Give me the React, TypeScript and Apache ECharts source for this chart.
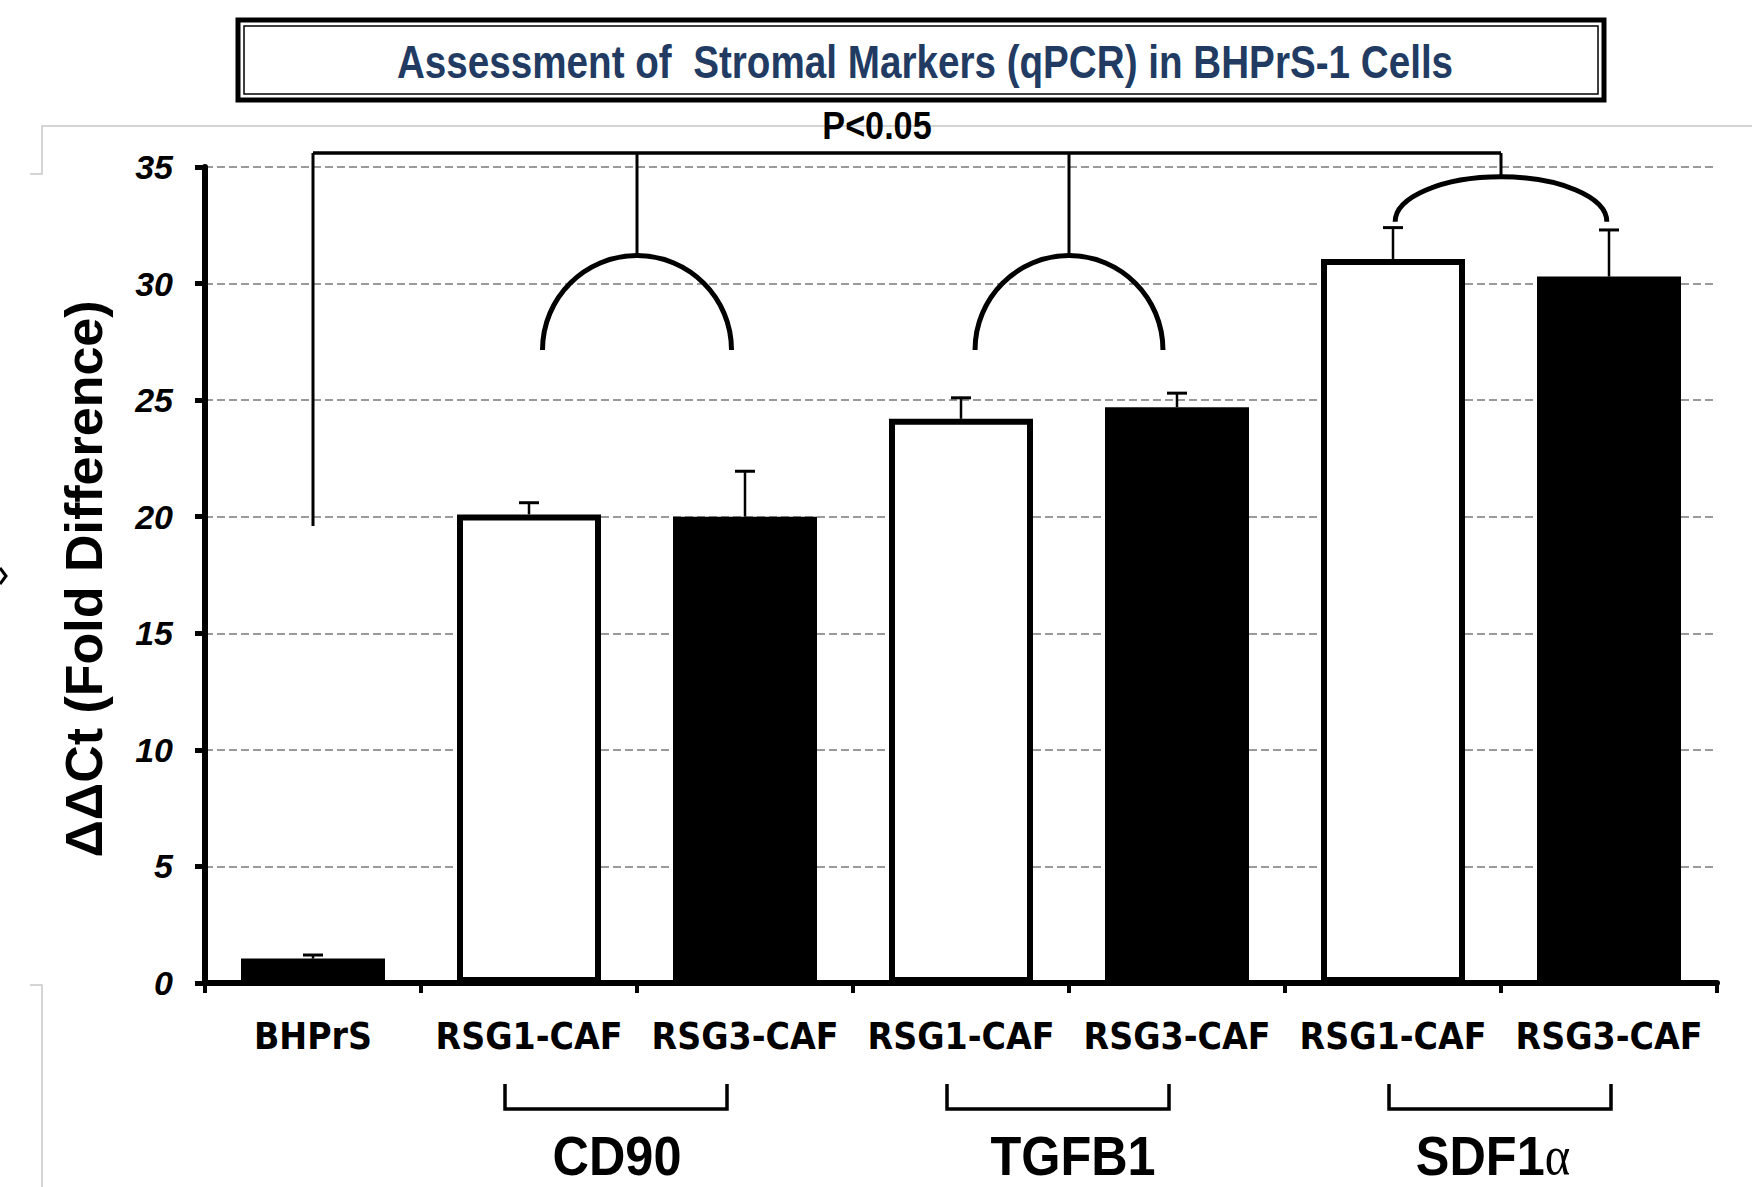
import React, { useEffect, useRef } from "react";
import * as echarts from "echarts";

// ---- data ----
const categories = ["BHPrS", "RSG1-CAF", "RSG3-CAF", "RSG1-CAF", "RSG3-CAF", "RSG1-CAF", "RSG3-CAF"];
const means = [1.05, 20.1, 20.0, 24.2, 24.7, 31.05, 30.3];
const errors = [0.15, 0.5, 1.95, 0.9, 0.6, 1.35, 2.0];
const markerNames = ["CD90", "TGFB1", "SDF1"];
const markerPairs = [[1, 2], [3, 4], [5, 6]];
const yMin = 0;
const yMax = 35;
const yStep = 5;
const titleText = "Assessment of  Stromal Markers (qPCR) in BHPrS-1 Cells";
const pText = "P<0.05";
const yName = "ΔΔCt (Fold Difference)";

// layout tweaks (pixels)
const bracketShift = [-10, 0, 10];
const labelShift = [-20, 4, -8];

const CONDENSED = "'DejaVu Sans Condensed', 'Liberation Sans Narrow', sans-serif";
const SANS = "'Liberation Sans', Arial, sans-serif";

export default function App() {
  const ref = useRef<HTMLDivElement>(null);
  useEffect(() => {
    if (!ref.current) return;
    const chart = echarts.init(ref.current, undefined, { renderer: "svg" });
    const barData = means.map((v, i) => {
      const open = categories[i].startsWith("RSG1");
      return {
        value: v,
        itemStyle: open
          ? { color: "#ffffff", borderColor: "#000000", borderWidth: 6 }
          : { color: "#000000", borderWidth: 0 },
      };
    });
    const errData = means.map((v, i) => [i, v, v + errors[i]]);
    const option: any = {
      animation: false,
      backgroundColor: "#ffffff",
      grid: { left: 205, right: 35, top: 167, bottom: 204, containLabel: false },
      xAxis: {
        type: "category",
        data: categories,
        axisLine: { show: true, lineStyle: { color: "#000", width: 6 } },
        axisTick: { show: true, length: 10, interval: 0, lineStyle: { color: "#000", width: 4 } },
        axisLabel: {
          interval: 0,
          margin: 35,
          color: "#000",
          fontFamily: CONDENSED,
          fontWeight: "bold",
          fontSize: 37,
        },
        splitLine: { show: false },
      },
      yAxis: {
        type: "value",
        min: yMin,
        max: yMax,
        interval: yStep,
        axisLine: { show: true, lineStyle: { color: "#000", width: 6 } },
        axisTick: { show: true, length: 10, lineStyle: { color: "#000", width: 5 } },
        axisLabel: {
          margin: 32,
          color: "#000",
          fontFamily: SANS,
          fontWeight: "bold",
          fontStyle: "italic",
          fontSize: 34,
        },
        splitLine: { show: true, lineStyle: { color: "#9a9a9a", width: 2, type: [8, 4] } },
      },
      series: [
        {
          type: "bar",
          data: barData,
          barWidth: 144,
          z: 2,
        },
        {
          type: "custom",
          data: errData,
          encode: { x: 0, y: [1, 2] },
          z: 3,
          renderItem: (params: any, api: any) => {
            const i = api.value(0);
            const lo = api.coord([i, api.value(1)]);
            const hi = api.coord([i, api.value(2)]);
            return {
              type: "group",
              children: [
                { type: "line", shape: { x1: lo[0], y1: lo[1], x2: hi[0], y2: hi[1] }, style: { stroke: "#000", lineWidth: 2.5 } },
                { type: "line", shape: { x1: hi[0] - 10, y1: hi[1], x2: hi[0] + 10, y2: hi[1] }, style: { stroke: "#000", lineWidth: 3 } },
              ],
            };
          },
        },
      ],
    };
    chart.setOption(option);

    const px = (c: number, v: number) => chart.convertToPixel({ xAxisIndex: 0, yAxisIndex: 0 }, [c, v]) as number[];
    const cx = (c: number) => px(c, 0)[0];
    const cy = (v: number) => px(0, v)[1];
    const catW = cx(1) - cx(0);
    const mid = (a: number, b: number) => (cx(a) + cx(b)) / 2;
    const axisY = cy(0);

    const g: any[] = [];
    const blk = (w: number) => ({ stroke: "#000", lineWidth: w, fill: "none" });

    // frame artifacts
    g.push({ type: "polyline", shape: { points: [[30, 174], [42, 174], [42, 126], [1752, 126]] }, style: { stroke: "#c8c8c8", lineWidth: 1.5, fill: "none" } });
    g.push({ type: "polyline", shape: { points: [[30, 985], [42, 985], [42, 1187]] }, style: { stroke: "#c8c8c8", lineWidth: 1.5, fill: "none" } });
    g.push({ type: "polyline", shape: { points: [[0, 568], [6, 576], [0, 584]] }, style: { stroke: "#000", lineWidth: 3, fill: "none" } });

    // title box
    g.push({ type: "rect", shape: { x: 238, y: 20, width: 1366, height: 80 }, style: { stroke: "#000", lineWidth: 5, fill: "#fff" } });
    g.push({ type: "rect", shape: { x: 244, y: 26, width: 1354, height: 68 }, style: { stroke: "#000", lineWidth: 1.5, fill: "none" } });
    g.push({
      type: "text", x: 925, y: 62, scaleX: 0.84,
      style: { text: titleText, fill: "#213b63", fontFamily: SANS, fontWeight: "bold", fontSize: 46, align: "center", verticalAlign: "middle" },
    });
    g.push({
      type: "text", x: 877, y: 126, scaleX: 0.9,
      style: { text: pText, fill: "#000", fontFamily: SANS, fontWeight: "bold", fontSize: 38, align: "center", verticalAlign: "middle" },
    });
    // y axis name
    g.push({
      type: "text", x: 84, y: 579, rotation: Math.PI / 2,
      style: { text: yName, fill: "#000", fontFamily: SANS, fontWeight: "bold", fontSize: 52, align: "center", verticalAlign: "middle" },
    });

    // significance bracket
    const yT = cy(35.6);
    const rightX = mid(5, 6);
    g.push({ type: "line", shape: { x1: cx(0), y1: yT, x2: rightX, y2: yT }, style: blk(3.5) });
    g.push({ type: "line", shape: { x1: cx(0), y1: yT, x2: cx(0), y2: cy(19.6) }, style: blk(3) });

    const arcs = [
      { pair: [1, 2], top: 31.2, end: 27.15, half: 0.4375 },
      { pair: [3, 4], top: 31.2, end: 27.15, half: 0.435 },
      { pair: [5, 6], top: 34.58, end: 32.65, half: 0.49 },
    ];
    const k = 0.5523;
    arcs.forEach((a) => {
      const x = mid(a.pair[0], a.pair[1]);
      const yTop = cy(a.top);
      const yEnd = cy(a.end);
      const rx = a.half * catW;
      const ry = yEnd - yTop;
      g.push({ type: "line", shape: { x1: x, y1: yT, x2: x, y2: yTop }, style: blk(3) });
      g.push({
        type: "bezierCurve",
        shape: { x1: x - rx, y1: yEnd, x2: x, y2: yTop, cpx1: x - rx, cpy1: yEnd - k * ry, cpx2: x - k * rx, cpy2: yTop },
        style: blk(5),
      });
      g.push({
        type: "bezierCurve",
        shape: { x1: x, y1: yTop, x2: x + rx, y2: yEnd, cpx1: x + k * rx, cpy1: yTop, cpx2: x + rx, cpy2: yEnd - k * ry },
        style: blk(5),
      });
    });

    // group brackets and labels below axis
    markerPairs.forEach((p, idx) => {
      const l = cx(p[0]) - 14 + bracketShift[idx];
      const r = cx(p[1]) - 8 + bracketShift[idx];
      const y1 = axisY + 101;
      const y2 = axisY + 126;
      g.push({ type: "polyline", shape: { points: [[l, y1], [l, y2], [r, y2], [r, y1]] }, style: blk(3.5) });
      const lx = mid(p[0], p[1]) + labelShift[idx];
      const ly = axisY + 173;
      const name = markerNames[idx];
      if (name === "SDF1") {
        g.push({
          type: "text", x: lx, y: ly, scaleX: 0.9,
          style: {
            text: "{a|SDF1}{b|α}",
            align: "center", verticalAlign: "middle",
            rich: {
              a: { fill: "#000", fontFamily: SANS, fontWeight: "bold", fontSize: 56 },
              b: { fill: "#000", fontFamily: "'Liberation Serif', 'DejaVu Serif', serif", fontWeight: "normal", fontSize: 54 },
            },
          },
        });
      } else {
        g.push({
          type: "text", x: lx, y: ly, scaleX: 0.9,
          style: { text: name, fill: "#000", fontFamily: SANS, fontWeight: "bold", fontSize: 56, align: "center", verticalAlign: "middle" },
        });
      }
    });

    chart.setOption({ graphic: g });
    return () => chart.dispose();
  }, []);
  return <div ref={ref} style={{ position: "absolute", left: 0, top: 0, width: 1752, height: 1187 }} />;
}
